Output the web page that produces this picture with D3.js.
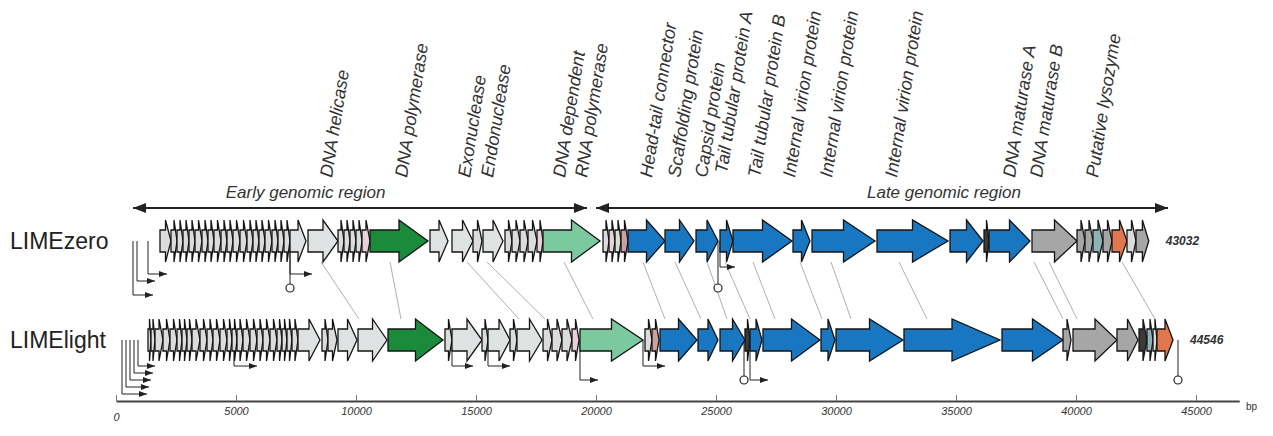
<!DOCTYPE html>
<html>
<head>
<meta charset="utf-8">
<script src="https://cdn.jsdelivr.net/npm/d3@7"></script>
<style>
body { margin: 0; background: #fff; }
svg { display: block; font-family: "Liberation Sans", Arial, sans-serif; }
</style>
</head>
<body>
<svg></svg>
<script>
// genomes
const genomeNames = ["LIMEzero", "LIMElight"];
const genomeLengths = [43032, 44546];

// genes: [start bp, end bp, type]
const zeroGenes = [
  [1833,2292,"w"],[2292,2542,"w"],[2542,2792,"w"],[2792,3042,"w"],[3042,3292,"w"],[3292,3583,"w"],
  [3583,3833,"w"],[3833,4083,"w"],[4083,4375,"w"],[4375,4625,"w"],[4625,4875,"w"],[4875,5167,"w"],
  [5167,5458,"w"],[5458,5708,"w"],[5708,5958,"w"],[5958,6208,"w"],[6208,6500,"w"],[6500,6750,"w"],
  [6750,7000,"w"],[7000,7250,"w"],
  [7250,7917,"l"],[8000,9250,"l"],
  [9250,9500,"w"],[9500,9750,"w"],[9750,10000,"w"],[10000,10250,"w"],[10250,10583,"p"],
  [10583,13000,"g"],
  [13083,13833,"l"],[14000,14875,"l"],[14875,15250,"w"],[15292,16125,"l"],
  [16208,16500,"w"],[16500,16833,"w"],[16833,17167,"w"],[17167,17542,"w"],[17542,17792,"p"],
  [17792,20167,"lg"],
  [20292,20542,"w"],[20542,20792,"p"],[20792,21042,"w"],[21042,21333,"r"],
  [21333,22875,"b"],[22875,24083,"b"],[24167,25083,"b"],[25167,25708,"b"],[25708,28167,"b"],
  [28208,28917,"b"],[29000,31625,"b"],[31708,34667,"b"],[34750,36125,"b"],[36167,36375,"d"],
  [36375,38083,"b"],
  [38167,40042,"gr"],[40042,40375,"gr"],[40375,40708,"gr"],[40708,41125,"t"],[41125,41500,"gr"],
  [41500,42125,"o"],[42125,42500,"w"],[42500,43032,"gr"]
];

const lightGenes = [
  [1333,1458,"w"],[1458,1625,"w"],[1625,1958,"w"],[1958,2250,"w"],[2250,2542,"w"],[2542,2750,"w"],
  [2750,2958,"w"],[2958,3167,"w"],[3167,3500,"w"],[3500,3792,"w"],[3792,4042,"w"],[4042,4333,"w"],
  [4333,4625,"w"],[4625,4833,"w"],[4833,5042,"w"],[5042,5292,"w"],[5292,5583,"w"],[5583,5875,"w"],
  [5875,6125,"w"],[6125,6417,"w"],[6417,6708,"w"],[6708,6917,"w"],[6917,7125,"w"],[7125,7333,"w"],
  [7333,7583,"w"],
  [7583,8500,"l"],[8583,8833,"w"],[8833,9208,"w"],[9250,10042,"l"],[10083,11292,"l"],
  [11333,13625,"g"],
  [13708,14000,"w"],[14000,15250,"l"],[15250,15500,"w"],[15500,16417,"l"],[16417,16708,"w"],
  [16708,17750,"l"],
  [17792,18167,"w"],[18167,18583,"w"],[18583,19000,"w"],[19000,19292,"p"],
  [19333,21958,"lg"],
  [22042,22333,"w"],[22333,22625,"r"],
  [22667,24208,"b"],[24250,25083,"b"],[25167,26208,"b"],[26208,26417,"d"],[26417,26917,"b"],
  [26958,29333,"b"],[29375,29958,"b"],[30000,32792,"b"],[32833,36833,"b"],[36917,39458,"b"],
  [39458,39792,"gr"],[39875,41708,"gr"],[41708,42583,"gr"],
  [42625,42958,"d"],[42958,43208,"t"],[43208,43375,"w"],[43375,44042,"o"]
];

// homologous links: LIMEzero bp -> LIMElight bp
const linkZero  = [8542, 11417, 14625, 15458, 18667, 21958, 23292, 24625, 25375, 26542, 28500, 29792, 32625, 38250, 38875, 41917];
const linkLight = [10125, 11875, 16792, 17875, 19875, 22875, 24375, 25458, 26417, 27458, 29417, 30625, 33792, 39458, 40042, 43292];

// promoters: [bp, arrow end bp, level]; terminators: [bp, level]
const zeroPromoters = [[708,1542,4],[875,1625,2],[1333,2125,1],[7250,8167,1],[25167,25792,0]];
const zeroTerminators = [[7250,3],[25083,3]];
const lightPromoters = [[250,1292,4],[417,1375,3],[583,1458,2],[750,1542,1],[917,1625,0],
  [4917,5875,0],[14000,14875,0],[15500,16417,0],[19333,20083,2],[21958,22875,0],[26417,27167,2]];
const lightTerminators = [[26167,2],[44250,2]];

// annotations
const geneLabels = [
  ["DNA helicase",9000],["DNA polymerase",12125],["Exonuclease",14750],["Endonuclease",15708],
  ["DNA dependent",18708],["RNA polymerase",19625],["Head-tail connector",22333],
  ["Scaffolding protein",23500],["Capsid protein",24625],["Tail tubular protein A",25458],
  ["Tail tubular protein B",26833],["Internal virion protein",28292],["Internal virion protein",29833],
  ["Internal virion protein",32542],["DNA maturase A",37458],["DNA maturase B",38583],
  ["Putative lysozyme",40917]
];
const regionNames = ["Early genomic region", "Late genomic region"];
const regionStarts = [708, 20000];
const regionEnds = [19625, 43833];
const regionLabelAt = [7900, 34500];
const tickValues = [0, 5000, 10000, 15000, 20000, 25000, 30000, 35000, 40000, 45000];

const width = 1273;
const height = 436;
const rowY = [241, 340];
const bodyH = 11;
const headH = 21;

const fills = {
  w: "#dcdcdc", l: "#dfe2e2", p: "#e8d2d8", r: "#c9a3a3", g: "#1b8a3b", lg: "#7cc9a0",
  b: "#1877c0", d: "#3a3a3a", gr: "#a6a6a6", o: "#e2774f", t: "#8fb3b5"
};

const svg = d3.select("svg").attr("width", width).attr("height", height);

const x = d3.scaleLinear().domain([0, 46800]).range([116, 116 + 46800 * 0.024]);

const defs = svg.append("defs");
defs.append("marker").attr("id", "bigHead")
  .attr("viewBox", "0 0 13 10").attr("refX", 13).attr("refY", 5)
  .attr("markerWidth", 13).attr("markerHeight", 10).attr("markerUnits", "userSpaceOnUse")
  .attr("orient", "auto-start-reverse")
  .append("path").attr("d", "M0,0L13,5L0,10Z").attr("fill", "#222");
defs.append("marker").attr("id", "smallHead")
  .attr("viewBox", "0 0 8 6").attr("refX", 8).attr("refY", 3)
  .attr("markerWidth", 8).attr("markerHeight", 6).attr("markerUnits", "userSpaceOnUse")
  .attr("orient", "auto")
  .append("path").attr("d", "M0,0L8,3L0,6Z").attr("fill", "#222");

const geneArrow = (d, cy) => {
  const x0 = x(d[0]), x1 = x(d[1]);
  const hl = Math.min((x1 - x0) * 0.5, 48);
  const xh = x1 - hl;
  return `M${x0},${cy - bodyH}L${xh},${cy - bodyH}L${xh},${cy - headH}L${x1},${cy}` +
    `L${xh},${cy + headH}L${xh},${cy + bodyH}L${x0},${cy + bodyH}Z`;
};

const dropY = (cy, level) => cy + 26 + 7 * level;

// links between genomes
svg.append("g").selectAll("line")
  .data(d3.zip(linkZero, linkLight))
  .enter().append("line")
  .attr("x1", d => x(d[0])).attr("y1", rowY[0] + headH)
  .attr("x2", d => x(d[1])).attr("y2", rowY[1] - headH)
  .attr("stroke", "#9a9a9a").attr("stroke-width", 0.8);

const promoters = [zeroPromoters, lightPromoters];
const terminators = [zeroTerminators, lightTerminators];
const genes = [zeroGenes, lightGenes];

genomeNames.forEach((name, i) => {
  const cy = rowY[i];
  const g = svg.append("g");

  g.selectAll(".prom")
    .data(promoters[i]).enter().append("path")
    .attr("d", d => `M${x(d[0])},${cy}V${dropY(cy, d[2])}H${x(d[1])}`)
    .attr("fill", "none").attr("stroke", "#222").attr("stroke-width", 1)
    .attr("marker-end", "url(#smallHead)");

  g.selectAll(".term-line")
    .data(terminators[i]).enter().append("line")
    .attr("x1", d => x(d[0])).attr("x2", d => x(d[0]))
    .attr("y1", cy).attr("y2", d => dropY(cy, d[1]) - 4)
    .attr("stroke", "#222").attr("stroke-width", 1);
  g.selectAll(".term")
    .data(terminators[i]).enter().append("circle")
    .attr("cx", d => x(d[0])).attr("cy", d => dropY(cy, d[1]))
    .attr("r", 4).attr("fill", "#fff").attr("stroke", "#222").attr("stroke-width", 1.2);

  g.selectAll(".gene")
    .data(genes[i]).enter().append("path")
    .attr("d", d => geneArrow(d, cy))
    .attr("fill", d => fills[d[2]])
    .attr("stroke", "#141414").attr("stroke-width", 1.3).attr("stroke-linejoin", "miter");

  g.append("text")
    .attr("x", 10).attr("y", cy + 8)
    .attr("font-size", 23).attr("fill", "#222")
    .text(name);

  const lastEnd = d3.max(genes[i], d => d[1]);
  g.append("text")
    .attr("x", x(lastEnd) + 17).attr("y", cy + 4)
    .attr("font-size", 12).attr("font-weight", "bold").attr("font-style", "italic")
    .attr("fill", "#333")
    .text(genomeLengths[i]);
});

// region arrows
regionNames.forEach((name, i) => {
  svg.append("line")
    .attr("x1", x(regionStarts[i])).attr("x2", x(regionEnds[i]))
    .attr("y1", 208).attr("y2", 208)
    .attr("stroke", "#222").attr("stroke-width", 2)
    .attr("marker-start", "url(#bigHead)").attr("marker-end", "url(#bigHead)");
  svg.append("text")
    .attr("x", x(regionLabelAt[i])).attr("y", 198)
    .attr("text-anchor", "middle")
    .attr("font-size", 17).attr("font-style", "italic").attr("fill", "#333")
    .text(name);
});

// rotated gene labels
svg.append("g").selectAll("text")
  .data(geneLabels).enter().append("text")
  .attr("transform", d => `translate(${x(d[1])},${d[0] == "Tail tubular protein A" ? 174 : 178}) rotate(-81)`)
  .attr("font-size", 18).attr("font-style", "italic").attr("fill", "#333")
  .text(d => d[0]);

// axis
const axis = d3.axisBottom(x)
  .tickValues(tickValues)
  .tickSizeInner(-6).tickSizeOuter(0).tickPadding(6)
  .tickFormat(d3.format("d"));

const axisG = svg.append("g")
  .attr("transform", "translate(0,401)")
  .call(axis);
axisG.select(".domain").attr("stroke", "#444").attr("stroke-width", 2);
axisG.selectAll(".tick line").attr("stroke", "#777");
axisG.selectAll(".tick text")
  .attr("font-family", "'Liberation Sans Narrow', 'Liberation Sans', Arial, sans-serif")
  .attr("font-size", 11).attr("font-style", "italic").attr("fill", "#333");
// the zero label sits a little lower in the original
axisG.selectAll(".tick text").filter(d => d === 0).attr("y", 12);

svg.append("text")
  .attr("x", 1246).attr("y", 410)
  .attr("font-size", 10).attr("fill", "#333")
  .text("bp");
</script>
</body>
</html>
